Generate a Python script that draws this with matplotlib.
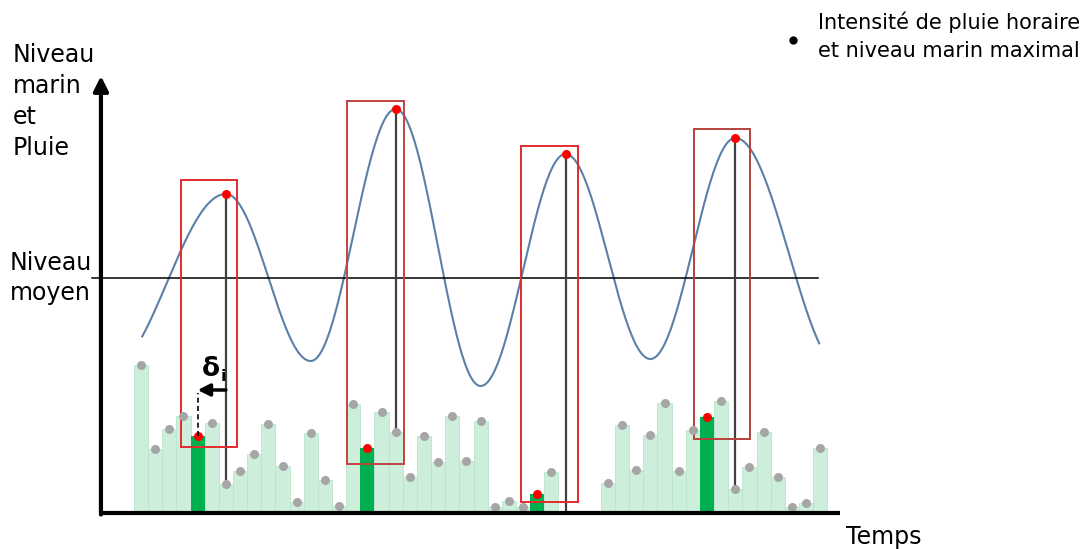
import numpy as np
import matplotlib
matplotlib.use("Agg")
import matplotlib.pyplot as plt
from matplotlib.patches import Rectangle

# pluie horaire (unités arbitraires), une barre par heure
rain = [147, 63, 83, 96, 76, 89, 28, 41, 58, 88,
        46, 10, 79, 32, 6, 108, 64, 100, 80, 35,
        76, 50, 96, 51, 91, 5, 11, 5, 18, 40,
        0, 0, 0,
        29, 87, 42, 77, 109, 41, 82, 95, 111, 23, 45, 80, 35, 5, 9, 64]
hours = np.arange(len(rain))

# pluie max dans chaque fenêtre (barres vertes)
max_rain_idx = [4, 16, 28, 40]

# extrema de la marée (heure, niveau); premier et dernier hors cadre
tide_t = [-2.3, 6, 12, 18, 24, 30, 36, 42, 49.6]
tide_lvl = [142, 318, 151, 403, 126, 358, 153, 374, 142]
peak_hours = [6, 18, 30, 42]
mean_level = 234

# fenêtres (début, fin, bas, haut)
win_t0 = [2.83, 14.56, 26.86, 39.08]
win_t1 = [6.78, 18.59, 30.88, 43.04]
win_lo = [65, 48, 10, 73]
win_hi = [332, 411, 366, 383]
win_col = ['#e32b2d', '#bf4440', '#e32b2d', '#b8403c']

W, H = 1090, 549
fig = plt.figure(figsize=(W / 100, H / 100), dpi=100)
ax = fig.add_axes([0, 0, 1, 1])
px = 14.15  # pixels par heure
ax.set_xlim(-141 / px, (W - 141) / px)
ax.set_ylim(512 - H, 512)
ax.axis('off')

# barres de pluie
bar_cols = ['#00b050' if i in max_rain_idx else '#cdeedb' for i in hours]
ax.bar(hours, rain, width=1.0, color=bar_cols, edgecolor='#b9e5cb', linewidth=0.6, zorder=2)
for i in max_rain_idx:
    ax.bar(hours[i], rain[i], width=1.0, color='#00b050', linewidth=0, zorder=3)

# courbe de marée (segments demi-cosinus entre extrema)
t_all, y_all = [], []
for k in range(len(tide_t) - 1):
    t = np.linspace(tide_t[k], tide_t[k + 1], 60)
    f = (1 - np.cos(np.pi * (t - tide_t[k]) / (tide_t[k + 1] - tide_t[k]))) / 2
    t_all.append(t)
    y_all.append(tide_lvl[k] + (tide_lvl[k + 1] - tide_lvl[k]) * f)
t_all = np.concatenate(t_all)
y_all = np.concatenate(y_all)
keep = (t_all >= 0) & (t_all <= 48)
ax.plot(t_all[keep], y_all[keep], color='#5b80a8', lw=1.5, zorder=4)

# niveau moyen
ax.plot([-3.46, 47.84], [mean_level, mean_level], color='black', lw=1.1, zorder=4)

# lignes verticales pic -> pluie
for h in peak_hours:
    lvl = tide_lvl[tide_t.index(h)]
    ax.plot([h, h], [rain[h], lvl], color='#404040', lw=1.6, zorder=5)

# fenêtres
for a, b, lo, hi, c in zip(win_t0, win_t1, win_lo, win_hi, win_col):
    ax.add_patch(Rectangle((a, lo), b - a, hi - lo, fill=False, edgecolor=c, lw=1.4, zorder=6))

# points
gray_idx = [i for i in hours if rain[i] > 0 and i not in max_rain_idx]
ax.plot(hours[gray_idx], np.array(rain)[gray_idx], 'o', color='#a6a6a6', ms=6.5, mec='none', zorder=7)
ax.plot(hours[max_rain_idx], np.array(rain)[max_rain_idx], 'o', color='#ff0000', ms=6.5, mec='none', zorder=8)
ax.plot(peak_hours, [tide_lvl[tide_t.index(h)] for h in peak_hours], 'o', color='#ff0000', ms=6.5, mec='none', zorder=8)

# décalage delta_i
ax.annotate('', xy=(4, 122), xytext=(6, 122),
            arrowprops=dict(arrowstyle='-|>', color='black', lw=2.5, mutation_scale=18, shrinkA=0, shrinkB=0), zorder=9)
ax.plot([4, 4], [rain[4], 119], color='black', lw=1.2, ls=(0, (3, 2)), zorder=9)
ax.text(4.3, 136, 'δ', fontsize=19, fontweight='bold', ha='left', va='baseline', zorder=9)
ax.text(5.6, 131, 'i', fontsize=11.5, fontweight='bold', ha='left', va='baseline', zorder=9)

# axes
ax.plot([-2.83, 49.4], [-1, -1], color='black', lw=3, solid_capstyle='butt', zorder=10)
ax.annotate('', xy=(-2.83, 436), xytext=(-2.83, -2.5),
            arrowprops=dict(arrowstyle='-|>', color='black', lw=3, mutation_scale=22, shrinkA=0, shrinkB=0), zorder=10)

# textes
def ftext(x, y, s, **kw):
    fig.text(x / W, 1 - y / H, s, va='baseline', ha='left', **kw)

for j, s in enumerate(['Niveau', 'marin', 'et', 'Pluie']):
    ftext(13, 62 + 31 * j, s, fontsize=17)
ftext(10, 270, 'Niveau', fontsize=17)
ftext(10, 300, 'moyen', fontsize=17)
ftext(846, 544, 'Temps', fontsize=17)
ftext(818, 29, 'Intensité de pluie horaire', fontsize=15)
ftext(818, 57, 'et niveau marin maximal', fontsize=15)
fig.add_artist(plt.Line2D([793 / W], [1 - 40 / H], marker='o', color='black', ms=6, mec='none'))

fig.savefig('out.png', dpi=100)
